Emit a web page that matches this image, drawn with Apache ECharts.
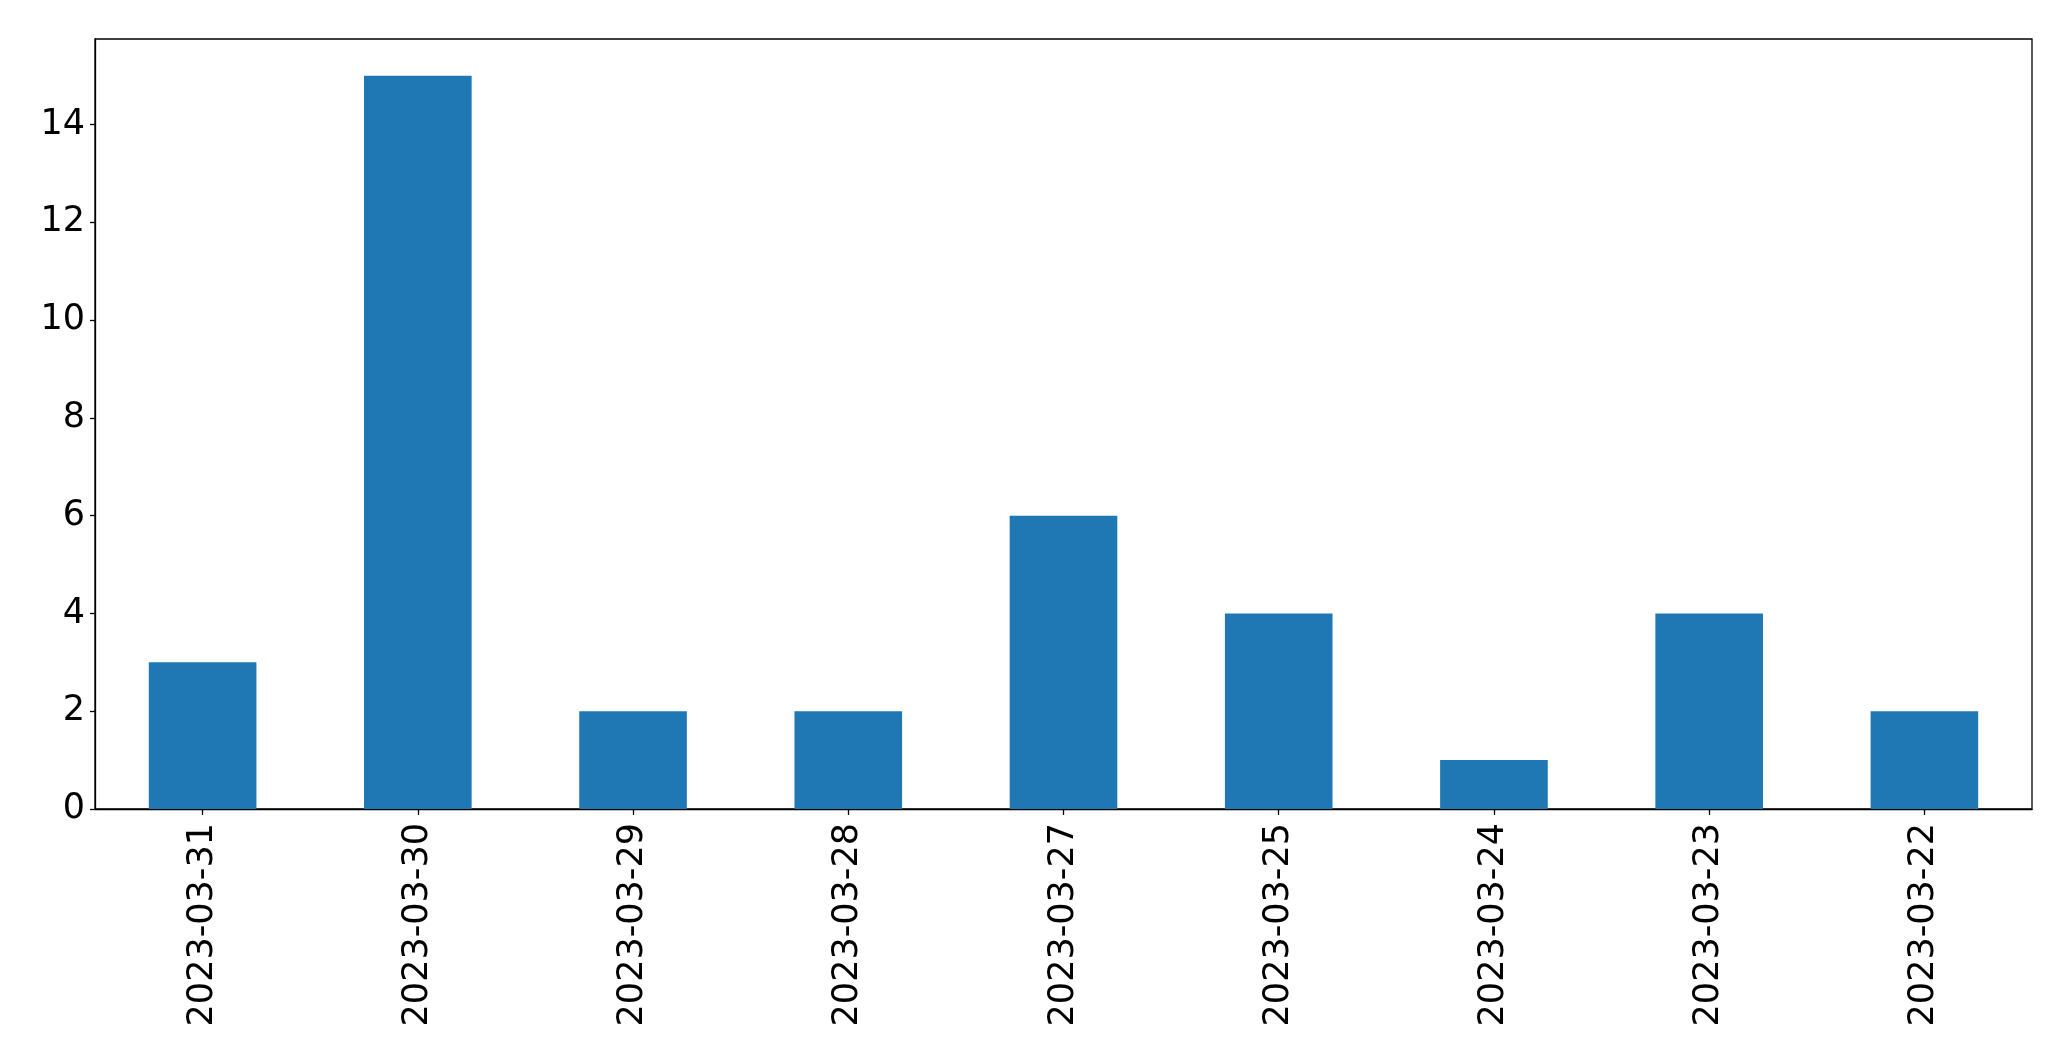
<!DOCTYPE html>
<html>
<head>
<meta charset="utf-8">
<script src="https://cdn.jsdelivr.net/npm/echarts@6/dist/echarts.min.js"></script>
<style>
html,body{margin:0;padding:0;background:#fff;}
#chart{width:2071px;height:1061px;}
</style>
</head>
<body>
<div id="chart"></div>
<script>
const categories = ["2023-03-31","2023-03-30","2023-03-29","2023-03-28","2023-03-27","2023-03-25","2023-03-24","2023-03-23","2023-03-22"];
const values = [3, 15, 2, 2, 6, 4, 1, 4, 2];
const yTicks = [0, 2, 4, 6, 8, 10, 12, 14];

const chart = echarts.init(document.getElementById('chart'), null, {renderer: 'canvas'});
const font = 'DejaVu Sans';
chart.setOption({
  animation: false,
  backgroundColor: '#ffffff',
  grid: {left: 95, right: 39, top: 39, bottom: 252, show: true, borderColor: '#000', borderWidth: 1.3, backgroundColor: 'transparent'},
  xAxis: {
    type: 'category',
    data: categories,
    axisLine: {show: true, lineStyle: {color: '#000', width: 1.3}},
    axisTick: {show: true, alignWithLabel: true, length: 6, lineStyle: {color: '#000', width: 1.3}},
    axisLabel: {rotate: 90, margin: 14, color: '#000', fontSize: 35, fontFamily: font, interval: 0},
    splitLine: {show: false}
  },
  yAxis: {
    type: 'value',
    min: 0,
    max: 15.75,
    interval: 2,
    axisLine: {show: true, lineStyle: {color: '#000', width: 1.3}},
    axisTick: {show: true, length: 5, lineStyle: {color: '#000', width: 1.3}},
    axisLabel: {margin: 10, color: '#000', fontSize: 35, fontFamily: font, showMaxLabel: false,
      padding: [5, 0, 0, 0],
      formatter: v => yTicks.includes(v) ? String(v) : ''},
    splitLine: {show: false}
  },
  series: [{
    type: 'bar',
    data: values,
    barWidth: '50%',
    itemStyle: {color: '#1f77b4'}
  }]
});
</script>
</body>
</html>
